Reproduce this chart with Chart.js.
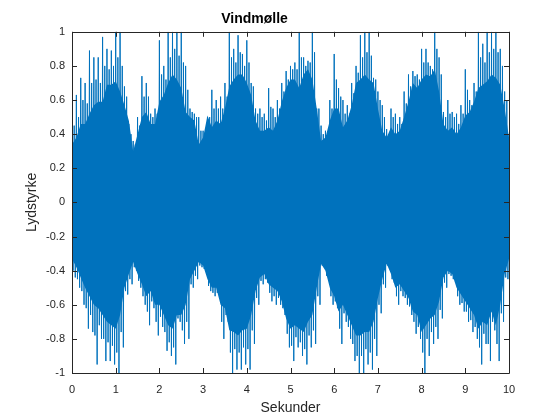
<!DOCTYPE html>
<html>
<head>
<meta charset="utf-8">
<script src="https://cdn.jsdelivr.net/npm/chart.js@4"></script>
<style>
  html, body { margin: 0; padding: 0; background: #fff; }
  #wrap { width: 560px; height: 420px; }
</style>
</head>
<body>
<div id="wrap"><canvas id="lydChart" width="560" height="420"></canvas></div>
<script>
// Tider (sekunder), 0.1 s mellom hvert vindu
const times = [0,0.1,0.2,0.3,0.4,0.5,0.6,0.7,0.8,0.9,1,1.1,1.2,1.3,1.4,1.5,1.6,1.7,1.8,1.9,
    2,2.1,2.2,2.3,2.4,2.5,2.6,2.7,2.8,2.9,3,3.1,3.2,3.3,3.4,3.5,3.6,3.7,3.8,3.9,
    4,4.1,4.2,4.3,4.4,4.5,4.6,4.7,4.8,4.9,5,5.1,5.2,5.3,5.4,5.5,5.6,5.7,5.8,5.9,
    6,6.1,6.2,6.3,6.4,6.5,6.6,6.7,6.8,6.9,7,7.1,7.2,7.3,7.4,7.5,7.6,7.7,7.8,7.9,
    8,8.1,8.2,8.3,8.4,8.5,8.6,8.7,8.8,8.9,9,9.1,9.2,9.3,9.4,9.5,9.6,9.7,9.8,9.9,10];

// Høyeste utslag opp i hvert vindu
const spikeUpper = [0.63,0.63,0.73,0.7,0.89,0.85,0.85,0.97,0.9,0.89,1,1,0.68,0.46,0.36,0.5,0.74,0.7,0.52,0.55,
    0.95,0.8,1,1,1,1,0.8,0.55,0.52,0.5,0.42,0.5,0.66,0.6,0.62,0.7,1,0.9,0.98,0.87,
    0.95,0.7,0.55,0.55,0.52,0.67,0.55,0.6,0.7,0.77,0.8,0.82,1,0.85,0.83,1,0.55,0.45,0.42,0.6,
    0.87,0.67,0.6,0.57,0.7,0.8,0.98,1,1,0.73,0.65,0.57,0.43,0.55,0.52,0.5,0.65,0.75,0.77,0.75,
    0.9,0.9,0.8,1,0.85,0.53,0.6,0.53,0.52,0.57,0.78,0.6,0.7,1,0.93,1,1,1,0.9,0.65,0.4];

// Dypeste utslag ned i hvert vindu
const spikeLower = [-0.44,-0.5,-0.6,-0.74,-0.76,-0.95,-0.8,-0.93,-0.93,-0.95,-1,-0.85,-0.54,-0.48,-0.4,-0.5,-0.6,-0.72,-0.62,-0.78,
    -0.73,-0.87,-0.9,-0.95,-0.7,-0.83,-0.8,-0.5,-0.45,-0.38,-0.4,-0.52,-0.55,-0.56,-0.8,-0.7,-1,-0.98,-0.98,-0.95,
    -0.98,-0.83,-0.6,-0.48,-0.47,-0.58,-0.6,-0.6,-0.66,-0.85,-0.93,-0.85,-0.9,-0.95,-0.85,-0.83,-0.6,-0.38,-0.45,-0.6,
    -0.62,-0.83,-0.7,-0.8,-0.93,-1,-1,-0.95,-0.98,-0.9,-0.65,-0.5,-0.38,-0.47,-0.6,-0.55,-0.6,-0.66,-0.77,-0.8,
    -1,-0.9,-0.83,-0.8,-0.68,-0.5,-0.43,-0.47,-0.6,-0.64,-0.7,-0.76,-0.8,-0.95,-0.83,-0.93,-0.75,-0.93,-0.7,-0.45,-0.35];

// Mindre topper mellom de største utslagene
const midUpper = [0.45,0.5,0.6,0.58,0.7,0.72,0.7,0.8,0.78,0.8,
    0.85,0.8,0.62,0.4,0.34,0.45,0.62,0.62,0.5,0.52,
    0.75,0.72,0.85,0.9,0.86,0.82,0.66,0.53,0.5,0.42,
    0.4,0.5,0.55,0.55,0.55,0.62,0.85,0.82,0.88,0.8,
    0.82,0.68,0.52,0.5,0.48,0.56,0.5,0.55,0.65,0.72,
    0.78,0.78,0.85,0.8,0.82,0.88,0.55,0.4,0.4,0.55,
    0.72,0.62,0.52,0.52,0.64,0.76,0.85,0.88,0.86,0.72,
    0.6,0.5,0.4,0.5,0.46,0.46,0.58,0.68,0.74,0.72,
    0.82,0.82,0.78,0.9,0.75,0.5,0.52,0.5,0.46,0.52,
    0.66,0.57,0.65,0.85,0.82,0.88,0.9,0.88,0.8,0.6,0.4];
const midLower = [-0.4,-0.45,-0.52,-0.62,-0.66,-0.78,-0.72,-0.8,-0.82,-0.84,
    -0.88,-0.76,-0.52,-0.45,-0.38,-0.46,-0.55,-0.64,-0.58,-0.7,
    -0.67,-0.76,-0.82,-0.85,-0.68,-0.75,-0.7,-0.48,-0.43,-0.37,
    -0.39,-0.49,-0.53,-0.53,-0.7,-0.66,-0.88,-0.86,-0.88,-0.85,
    -0.86,-0.75,-0.56,-0.46,-0.45,-0.53,-0.55,-0.56,-0.62,-0.77,
    -0.84,-0.79,-0.82,-0.86,-0.78,-0.75,-0.55,-0.37,-0.43,-0.55,
    -0.58,-0.74,-0.65,-0.73,-0.83,-0.9,-0.9,-0.86,-0.88,-0.8,
    -0.6,-0.48,-0.37,-0.45,-0.55,-0.52,-0.56,-0.61,-0.7,-0.73,
    -0.88,-0.8,-0.76,-0.73,-0.63,-0.47,-0.42,-0.45,-0.55,-0.59,
    -0.64,-0.69,-0.73,-0.85,-0.77,-0.83,-0.7,-0.83,-0.65,-0.44,-0.34];

// Kanten av det tette (nesten helt fylte) båndet
const edgeUpper = [0.34,0.38,0.46,0.46,0.52,0.57,0.59,0.59,0.69,0.69,
    0.71,0.65,0.57,0.48,0.3,0.4,0.5,0.53,0.46,0.46,
    0.59,0.63,0.7,0.75,0.72,0.67,0.53,0.5,0.48,0.34,
    0.38,0.51,0.44,0.48,0.46,0.55,0.68,0.72,0.75,0.75,
    0.7,0.63,0.48,0.42,0.42,0.44,0.42,0.48,0.59,0.67,
    0.72,0.72,0.67,0.75,0.78,0.72,0.55,0.36,0.38,0.48,
    0.55,0.55,0.44,0.48,0.57,0.7,0.72,0.75,0.72,0.7,
    0.55,0.42,0.38,0.44,0.4,0.42,0.5,0.59,0.7,0.67,
    0.72,0.75,0.74,0.78,0.65,0.46,0.42,0.44,0.4,0.44,
    0.51,0.53,0.59,0.67,0.69,0.71,0.75,0.73,0.69,0.55,0.38];
const edgeLower = [-0.33,-0.38,-0.44,-0.5,-0.55,-0.6,-0.62,-0.66,-0.7,-0.72,
    -0.74,-0.66,-0.5,-0.42,-0.35,-0.42,-0.48,-0.55,-0.52,-0.6,
    -0.6,-0.66,-0.72,-0.74,-0.66,-0.66,-0.6,-0.45,-0.4,-0.35,
    -0.37,-0.45,-0.5,-0.5,-0.6,-0.62,-0.75,-0.76,-0.78,-0.75,
    -0.74,-0.66,-0.52,-0.44,-0.42,-0.48,-0.5,-0.52,-0.58,-0.68,
    -0.74,-0.72,-0.74,-0.76,-0.7,-0.66,-0.5,-0.36,-0.4,-0.5,
    -0.55,-0.64,-0.6,-0.66,-0.72,-0.78,-0.78,-0.76,-0.76,-0.7,
    -0.56,-0.45,-0.36,-0.42,-0.5,-0.48,-0.52,-0.56,-0.64,-0.66,
    -0.76,-0.72,-0.68,-0.66,-0.58,-0.44,-0.4,-0.42,-0.5,-0.54,
    -0.58,-0.62,-0.66,-0.74,-0.7,-0.72,-0.64,-0.72,-0.6,-0.42,-0.33];

const xTicks = [0,1,2,3,4,5,6,7,8,9,10];
const yTicks = [-1,-0.8,-0.6,-0.4,-0.2,0,0.2,0.4,0.6,0.8,1];

const lineColor = '#0072BD';
const axisColor = '#262626';
const fontFamily = '"Liberation Sans", Arial, Helvetica, sans-serif';

// Sikksakk: stor topp, liten bunn, liten topp, stor bunn i hvert vindu
const wavePoints = [];
times.forEach((t, i) => {
    wavePoints.push({ x: t, y: spikeUpper[i] });
    wavePoints.push({ x: t + 0.025, y: midLower[i] });
    wavePoints.push({ x: t + 0.05, y: midUpper[i] });
    wavePoints.push({ x: t + 0.075, y: spikeLower[i] });
});

const edgeTop = times.map((t, i) => ({ x: t, y: edgeUpper[i] }));
const edgeBottom = times.map((t, i) => ({ x: t, y: edgeLower[i] }));

// Boks rundt plottet med tikkmerker som peker innover
const boxPlugin = {
    id: 'matlabBox',
    afterDraw(chart) {
        const { ctx, chartArea: a, scales } = chart;
        const len = 5;
        ctx.save();
        ctx.strokeStyle = axisColor;
        ctx.lineWidth = 1;
        ctx.beginPath();
        ctx.rect(Math.round(a.left) + 0.5, Math.round(a.top) + 0.5,
            Math.round(a.right - a.left), Math.round(a.bottom - a.top));
        xTicks.forEach(v => {
            const px = Math.round(scales.x.getPixelForValue(v)) + 0.5;
            ctx.moveTo(px, a.bottom);
            ctx.lineTo(px, a.bottom - len);
            ctx.moveTo(px, a.top);
            ctx.lineTo(px, a.top + len);
        });
        yTicks.forEach(v => {
            const py = Math.round(scales.y.getPixelForValue(v)) + 0.5;
            ctx.moveTo(a.left, py);
            ctx.lineTo(a.left + len, py);
            ctx.moveTo(a.right, py);
            ctx.lineTo(a.right - len, py);
        });
        ctx.stroke();
        ctx.restore();
    }
};

const ctx = document.getElementById('lydChart').getContext('2d');
new Chart(ctx, {
    type: 'line',
    data: {
        datasets: [
            {
                label: 'tett topp',
                data: edgeTop,
                borderWidth: 0,
                pointRadius: 0,
                backgroundColor: lineColor,
                fill: '+1',
                tension: 0
            },
            {
                label: 'tett bunn',
                data: edgeBottom,
                borderWidth: 0,
                pointRadius: 0,
                fill: false,
                tension: 0
            },
            {
                label: 'Lydstyrke',
                data: wavePoints,
                borderColor: lineColor,
                borderWidth: 1,
                pointRadius: 0,
                fill: false,
                tension: 0
            }
        ]
    },
    options: {
        responsive: false,
        animation: false,
        parsing: false,
        layout: {
            padding: { left: 0, right: 51, top: 0, bottom: 0 }
        },
        plugins: {
            legend: { display: false },
            tooltip: { enabled: false },
            title: {
                display: true,
                text: 'Vindmølle',
                color: '#000',
                font: { family: fontFamily, size: 14, weight: 'bold' },
                padding: { top: 11, bottom: 4 }
            }
        },
        scales: {
            x: {
                type: 'linear',
                min: 0,
                max: 10,
                grid: { display: false, drawTicks: false },
                border: { display: false },
                afterBuildTicks: scale => {
                    scale.ticks = xTicks.map(v => ({ value: v }));
                },
                afterFit: scale => { scale.height = 47; },
                ticks: {
                    color: axisColor,
                    padding: 10,
                    maxRotation: 0,
                    font: { family: fontFamily, size: 11 },
                    callback: v => String(v)
                },
                title: {
                    display: true,
                    text: 'Sekunder',
                    color: axisColor,
                    font: { family: fontFamily, size: 14 },
                    padding: { top: 0, bottom: 3 }
                }
            },
            y: {
                type: 'linear',
                min: -1,
                max: 1,
                grid: { display: false, drawTicks: false },
                border: { display: false },
                afterBuildTicks: scale => {
                    scale.ticks = yTicks.map(v => ({ value: v }));
                },
                afterFit: scale => { scale.width = 72; },
                ticks: {
                    color: axisColor,
                    padding: 7,
                    font: { family: fontFamily, size: 11 },
                    callback: v => String(Math.round(v * 10) / 10)
                },
                title: {
                    display: true,
                    text: 'Lydstyrke',
                    color: axisColor,
                    font: { family: fontFamily, size: 14 },
                    padding: { top: 24, bottom: 0 }
                }
            }
        }
    },
    plugins: [boxPlugin]
});
</script>
</body>
</html>
